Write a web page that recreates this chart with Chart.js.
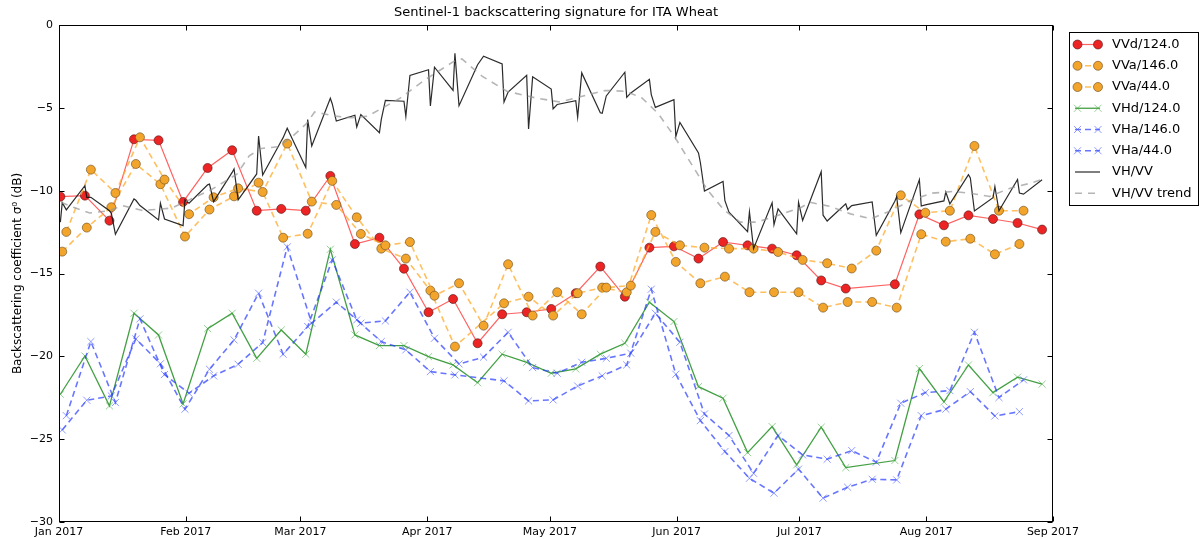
<!DOCTYPE html>
<html>
<head>
<meta charset="utf-8">
<title>Sentinel-1 backscattering signature for ITA Wheat</title>
<script src="https://cdn.jsdelivr.net/npm/chart.js@4.4.0/dist/chart.umd.min.js"></script>
<style>
  html, body { margin: 0; padding: 0; background: #fff; }
  #wrap { width: 1201px; height: 539px; }
</style>
</head>
<body>
<div id="wrap"><canvas id="sigChart" width="1201" height="539"></canvas></div>
<script>
// Sentinel-1 backscatter signature, ITA Wheat, Jan - Aug 2017
const chartTitle = 'Sentinel-1 backscattering signature for ITA Wheat';
const yTitle = 'Backscattering coefficient \u03c3\u2070 (dB)';

const monthDates = ['2017-01-01', '2017-02-01', '2017-03-01', '2017-04-01', '2017-05-01',
    '2017-06-01', '2017-07-01', '2017-08-01', '2017-09-01'];
const monthLabels = ['Jan 2017', 'Feb 2017', 'Mar 2017', 'Apr 2017', 'May 2017',
    'Jun 2017', 'Jul 2017', 'Aug 2017', 'Sep 2017'];
const yTicks = [0, -5, -10, -15, -20, -25, -30];

// acquisition dates: descending orbit 124 (morning) and ascending orbit 146 (evening)
const desc124Dates = ['2017-01-01', '2017-01-07', '2017-01-13', '2017-01-19', '2017-01-25', '2017-01-31',
    '2017-02-06', '2017-02-12', '2017-02-18', '2017-02-24', '2017-03-02', '2017-03-08', '2017-03-14',
    '2017-03-20', '2017-03-26', '2017-04-01', '2017-04-07', '2017-04-13', '2017-04-19', '2017-04-25',
    '2017-05-01', '2017-05-07', '2017-05-13', '2017-05-19', '2017-05-25', '2017-05-31', '2017-06-06',
    '2017-06-12', '2017-06-18', '2017-06-24', '2017-06-30', '2017-07-06', '2017-07-12', '2017-07-18',
    '2017-07-24', '2017-07-30', '2017-08-05', '2017-08-11', '2017-08-17', '2017-08-23', '2017-08-29'];
const asc146Dates = desc124Dates;
// ascending orbit 44 (evening, one day later)
const asc44Dates = ['2017-01-02', '2017-01-08', '2017-01-14', '2017-01-20', '2017-01-26', '2017-02-01',
    '2017-02-07', '2017-02-13', '2017-02-19', '2017-02-25', '2017-03-03', '2017-03-09', '2017-03-15',
    '2017-03-21', '2017-03-27', '2017-04-02', '2017-04-08', '2017-04-14', '2017-04-20', '2017-04-26',
    '2017-05-02', '2017-05-08', '2017-05-14', '2017-05-20', '2017-05-26', '2017-06-01', '2017-06-07',
    '2017-06-13', '2017-06-19', '2017-06-25', '2017-07-01', '2017-07-07', '2017-07-13', '2017-07-19',
    '2017-07-25', '2017-07-31', '2017-08-06', '2017-08-12', '2017-08-18', '2017-08-24'];
const descTime = '08:00';
const ascTime = '19:00';

const vvDesc124 = [-10.36, -10.30, -11.81, -6.90, -6.96, -10.68, -8.63, -7.56, -11.21, -11.10,
    -11.21, -9.11, -13.22, -12.84, -14.71, -17.34, -16.54, -19.21, -17.46, -17.34,
    -17.14, -16.19, -14.58, -16.40, -13.44, -13.36, -14.10, -13.10, -13.30, -13.50,
    -13.90, -15.42, -15.91, null, -15.65, -11.43, -12.09, -11.49, -11.71, -11.95, -12.35];
const vvAsc146 = [-13.68, -12.23, -11.00, -8.39, -9.61, -12.77, -11.14, -10.34, -9.52, -12.84,
    -12.60, -9.41, -11.61, -13.50, -14.10, -16.03, -19.41, null, -16.80, -16.40,
    -17.54, -16.19, -15.85, -16.13, -11.47, -14.30, -15.59, -15.19, -16.13, -16.13,
    -16.13, -17.06, -16.72, -16.72, -17.06, -12.63, -13.08, -12.90, -13.84, -13.22, null];
const vvAsc44 = [-12.49, -8.73, -10.14, -6.78, -9.33, -11.42, -10.40, -9.86, -10.08, -7.16,
    -10.66, -10.86, -12.61, -13.30, -13.10, -16.34, -15.59, -18.15, -14.44, -17.54,
    -16.13, -17.46, -15.85, -15.73, -12.49, -13.30, -13.44, -13.50, -13.50, -13.70,
    -14.18, -14.38, -14.70, -13.62, -10.28, -11.33, -11.21, -7.30, -11.21, -11.21];
const vhDesc124 = [-22.29, -19.98, -22.99, -17.40, -18.71, -22.87, -18.33, -17.40, -20.12, -18.41,
    -19.87, -13.54, -18.71, -19.35, -19.35, -20.02, -20.52, -21.59, -19.87, -20.36,
    -21.02, -20.76, -19.87, -19.21, -16.73, -17.90, -21.83, -22.53, -25.81, -24.24,
    -26.55, -24.28, -26.72, null, -26.29, -20.74, -22.75, -20.52, -22.19, -21.26, -21.68];
const vhAsc146 = [-24.44, -22.65, -22.39, -18.95, -20.45, -23.19, -20.78, -19.01, -16.19, -19.87,
    -18.20, -14.18, -17.80, -19.11, -19.61, -20.92, -21.12, null, -21.48, -22.69,
    -22.63, -21.79, -21.18, -20.52, -15.95, -21.08, -23.88, -25.75, -27.36, -28.26,
    -26.81, -28.56, -27.90, -27.42, -27.46, -23.58, -23.19, -22.13, -23.60, -23.34, null];
const vhAsc44 = [-23.58, -19.11, -22.79, -17.74, -21.10, -22.23, -21.18, -20.48, -19.17, -13.40,
    -18.00, -16.73, -18.00, -17.86, -16.13, -18.91, -20.46, -20.05, -18.55, -20.68,
    -21.02, -20.36, -20.12, -19.81, -17.40, -19.15, -23.48, -24.78, -27.06, -24.78,
    -25.95, -26.21, -25.69, -26.39, -22.83, -22.19, -22.07, -18.55, -22.49, -21.42];

// VH/VV ratio read at every acquisition of each orbit
const ratioDesc124 = [-11.90, -9.70, -11.21, -10.50, -11.77, -12.11, -9.65, -8.90, -8.99, -7.00,
    -8.60, -4.42, -5.45, -6.50, -4.60, -2.70, -3.95, -2.40, -2.35, -3.04,
    -3.87, -4.57, -5.30, -2.85, -3.28, -4.51, -7.72, -9.45, -12.48, -10.73,
    -12.60, -8.86, -10.80, null, -10.64, -9.33, -10.62, -9.04, -10.42, -9.33, -9.34];
const ratioAsc146 = [-10.72, -10.40, -11.37, -10.58, -10.76, -10.56, -9.60, -8.69, -6.70, -6.80,
    -5.71, -4.75, -6.15, -5.70, -5.52, -4.89, -1.71, null, -4.65, -6.28,
    -5.06, -5.56, -5.33, -4.37, -4.20, -6.74, -8.30, -10.60, -11.28, -12.05,
    -10.70, -11.48, -11.14, -10.68, -10.36, -10.93, -10.08, -9.23, -9.76, -10.14, null];
const ratioAsc44 = [-11.16, -10.40, -12.63, -10.90, -11.71, -10.76, -10.66, -10.56, -9.05, -6.23,
    -7.30, -5.80, -5.41, -4.55, -3.05, -2.55, -4.87, -1.88, -4.05, -3.13,
    -4.80, -2.89, -4.28, -4.10, -4.97, -5.88, -10.02, -11.30, -13.50, -11.10,
    -11.80, -11.83, -10.90, -12.70, -12.53, -10.86, -10.80, -11.23, -11.22, -10.21];

const trendDates = ['2017-01-01', '2017-01-04', '2017-01-08', '2017-01-13', '2017-01-16', '2017-01-21',
    '2017-01-28', '2017-02-01', '2017-02-07', '2017-02-13', '2017-02-16', '2017-02-19', '2017-02-23',
    '2017-02-26', '2017-03-02', '2017-03-04', '2017-03-09', '2017-03-13', '2017-03-17', '2017-03-21',
    '2017-03-25', '2017-03-31', '2017-04-07', '2017-04-09', '2017-04-14', '2017-04-20', '2017-04-27',
    '2017-05-03', '2017-05-10', '2017-05-14', '2017-05-19', '2017-05-23', '2017-05-27', '2017-05-31',
    '2017-06-04', '2017-06-08', '2017-06-12', '2017-06-16', '2017-06-20', '2017-06-24', '2017-07-01',
    '2017-07-03', '2017-07-08', '2017-07-13', '2017-07-18', '2017-07-23', '2017-07-28', '2017-08-02',
    '2017-08-07', '2017-08-11', '2017-08-16', '2017-08-21', '2017-08-26', '2017-08-29'];
const trendValues = [-10.7, -11.0, -11.35, -11.2, -10.9, -11.2, -11.05, -10.6, -9.9, -9.0,
    -7.9, -7.45, -7.35, -6.85, -5.95, -5.25, -5.5, -5.6, -5.5, -4.95,
    -4.4, -3.3, -2.2, -2.05, -3.1, -4.0, -4.4, -4.65, -4.2, -3.95,
    -4.0, -4.4, -5.35, -6.75, -8.35, -9.95, -11.15, -11.9, -11.9, -11.6,
    -11.0, -10.7, -10.95, -11.4, -11.7, -11.2, -10.55, -10.15, -10.05, -10.15,
    -10.35, -9.85, -9.55, -9.3];

// days since 1 Jan 2017 (UTC)
const t0 = Date.UTC(2017, 0, 1);
function toDay(d, time) {
    return (Date.parse(d + 'T' + time + ':00Z') - t0) / 86400000;
}
function points(dates, values, time) {
    return dates.map((d, i) => ({ x: toDay(d, time), y: values[i] }));
}

const monthDays = monthDates.map(d => toDay(d, '00:00'));

const ratioPoints = points(desc124Dates, ratioDesc124, descTime)
    .concat(points(asc146Dates, ratioAsc146, ascTime))
    .concat(points(asc44Dates, ratioAsc44, ascTime))
    .filter(p => p.y !== null)
    .sort((a, b) => a.x - b.x);

const redLine = 'rgba(255, 30, 30, 0.7)';
const orangeLine = 'rgba(255, 170, 40, 0.75)';
const greenLine = 'rgba(20, 135, 20, 0.8)';
const blueLine = 'rgba(40, 60, 255, 0.7)';

const datasets = [
    {
        label: 'VVd/124.0', data: points(desc124Dates, vvDesc124, descTime),
        borderColor: redLine, borderWidth: 1.2,
        pointStyle: 'circle', pointRadius: 4.5,
        pointBackgroundColor: '#ec2424', pointBorderColor: 'rgba(90, 25, 25, 0.8)', pointBorderWidth: 0.8
    },
    {
        label: 'VVa/146.0', data: points(asc146Dates, vvAsc146, ascTime),
        borderColor: orangeLine, borderWidth: 1.6, borderDash: [6, 4],
        pointStyle: 'circle', pointRadius: 4.5,
        pointBackgroundColor: '#f3a42b', pointBorderColor: 'rgba(110, 80, 35, 0.8)', pointBorderWidth: 0.8
    },
    {
        label: 'VVa/44.0', data: points(asc44Dates, vvAsc44, ascTime),
        borderColor: orangeLine, borderWidth: 1.6, borderDash: [6, 4],
        pointStyle: 'circle', pointRadius: 4.5,
        pointBackgroundColor: '#f3a42b', pointBorderColor: 'rgba(110, 80, 35, 0.8)', pointBorderWidth: 0.8
    },
    {
        label: 'VHd/124.0', data: points(desc124Dates, vhDesc124, descTime),
        borderColor: greenLine, borderWidth: 1.3,
        pointStyle: 'crossRot', pointRadius: 5,
        pointBackgroundColor: 'rgba(0,0,0,0)', pointBorderColor: 'rgba(60, 170, 60, 0.55)', pointBorderWidth: 1
    },
    {
        label: 'VHa/146.0', data: points(asc146Dates, vhAsc146, ascTime),
        borderColor: blueLine, borderWidth: 1.6, borderDash: [6, 4],
        pointStyle: 'crossRot', pointRadius: 5,
        pointBackgroundColor: 'rgba(0,0,0,0)', pointBorderColor: 'rgba(70, 90, 255, 0.6)', pointBorderWidth: 1
    },
    {
        label: 'VHa/44.0', data: points(asc44Dates, vhAsc44, ascTime),
        borderColor: blueLine, borderWidth: 1.6, borderDash: [6, 4],
        pointStyle: 'crossRot', pointRadius: 5,
        pointBackgroundColor: 'rgba(0,0,0,0)', pointBorderColor: 'rgba(70, 90, 255, 0.6)', pointBorderWidth: 1
    },
    {
        label: 'VH/VV', data: ratioPoints,
        borderColor: 'rgba(20, 20, 20, 0.9)', borderWidth: 1.2, pointRadius: 0
    },
    {
        label: 'VH/VV trend', data: points(trendDates, trendValues, '12:00'),
        borderColor: 'rgba(150, 150, 150, 0.7)', borderWidth: 1.6, borderDash: [7, 6], pointRadius: 0
    }
];
// later series are drawn on top
datasets.forEach((ds, i) => {
    ds.order = datasets.length - i;
    ds.tension = 0;
    ds.spanGaps = true;
    ds.fill = false;
});

// title, frame with inward ticks on all four sides
const framePlugin = {
    id: 'frame',
    afterDraw(chart) {
        const { ctx, chartArea: a, scales: { x, y } } = chart;
        const L = Math.round(a.left) + 0.5, R = Math.round(a.right) - 0.5;
        const T = Math.round(a.top) + 0.5, B = Math.round(a.bottom) - 0.5;
        ctx.save();
        ctx.strokeStyle = '#000';
        ctx.lineWidth = 1;
        ctx.beginPath();
        monthDays.forEach(v => {
            const px = Math.round(x.getPixelForValue(v)) + 0.5;
            ctx.moveTo(px, B); ctx.lineTo(px, B - 5);
            ctx.moveTo(px, T); ctx.lineTo(px, T + 5);
        });
        yTicks.forEach(v => {
            const py = Math.round(y.getPixelForValue(v)) + 0.5;
            ctx.moveTo(L, py); ctx.lineTo(L + 5, py);
            ctx.moveTo(R, py); ctx.lineTo(R - 5, py);
        });
        ctx.stroke();
        ctx.strokeRect(L, T, R - L, B - T);

        ctx.fillStyle = '#000';
        ctx.font = '13px "DejaVu Sans"';
        ctx.textAlign = 'center';
        ctx.textBaseline = 'middle';
        ctx.fillText(chartTitle, (a.left + a.right) / 2, 13);
        ctx.restore();
    }
};

// legend outside the axes, matplotlib style
const legendPlugin = {
    id: 'boxLegend',
    afterDraw(chart) {
        const ctx = chart.ctx;
        const x0 = 1069, y0 = 32, w = 129, h = 173;
        ctx.save();
        ctx.fillStyle = '#fff';
        ctx.fillRect(x0, y0, w, h);
        ctx.strokeStyle = '#000';
        ctx.lineWidth = 1;
        ctx.strokeRect(x0 + 0.5, y0 + 0.5, w, h);
        chart.data.datasets.forEach((ds, i) => {
            const yy = y0 + 12.5 + i * 21.25;
            ctx.setLineDash(ds.borderDash || []);
            ctx.strokeStyle = ds.borderColor;
            ctx.lineWidth = ds.borderWidth;
            ctx.beginPath();
            ctx.moveTo(1075, yy);
            ctx.lineTo(1100, yy);
            ctx.stroke();
            ctx.setLineDash([]);
            if (ds.pointRadius > 0) {
                [1077.5, 1098].forEach(px => {
                    ctx.beginPath();
                    if (ds.pointStyle === 'circle') {
                        ctx.arc(px, yy, ds.pointRadius, 0, Math.PI * 2);
                        ctx.fillStyle = ds.pointBackgroundColor;
                        ctx.fill();
                        ctx.lineWidth = ds.pointBorderWidth;
                        ctx.strokeStyle = ds.pointBorderColor;
                        ctx.stroke();
                    } else {
                        const r = ds.pointRadius * Math.SQRT1_2;
                        ctx.moveTo(px - r, yy - r); ctx.lineTo(px + r, yy + r);
                        ctx.moveTo(px - r, yy + r); ctx.lineTo(px + r, yy - r);
                        ctx.lineWidth = ds.pointBorderWidth;
                        ctx.strokeStyle = ds.pointBorderColor;
                        ctx.stroke();
                    }
                });
            }
            ctx.fillStyle = '#000';
            ctx.font = '13px "DejaVu Sans"';
            ctx.textAlign = 'left';
            ctx.textBaseline = 'middle';
            ctx.fillText(ds.label, 1112, yy);
        });
        ctx.restore();
    }
};

Chart.defaults.font.family = '"DejaVu Sans", sans-serif';
Chart.defaults.color = '#000';

const ctx = document.getElementById('sigChart').getContext('2d');
const chart = new Chart(ctx, {
    type: 'line',
    data: { datasets: datasets },
    options: {
        responsive: false,
        animation: false,
        devicePixelRatio: 1,
        events: [],
        layout: { padding: { left: 0, top: 25, right: 148, bottom: 0 } },
        plugins: {
            legend: { display: false },
            title: { display: false },
            tooltip: { enabled: false }
        },
        scales: {
            x: {
                type: 'linear',
                min: monthDays[0],
                max: monthDays[monthDays.length - 1],
                grid: { display: false, drawTicks: false },
                border: { display: false },
                afterBuildTicks: scale => {
                    scale.ticks = monthDays.map(v => ({ value: v }));
                },
                afterFit: scale => { scale.height = 17; },
                ticks: {
                    autoSkip: false,
                    maxRotation: 0,
                    padding: 4,
                    font: { size: 11 },
                    callback: function(value, index) {
                        return monthLabels[index];
                    }
                }
            },
            y: {
                min: -30,
                max: 0,
                grid: { display: false, drawTicks: false },
                border: { display: false },
                afterBuildTicks: scale => {
                    scale.ticks = yTicks.map(v => ({ value: v }));
                },
                afterFit: scale => { scale.width = 59; },
                title: {
                    display: true,
                    text: yTitle,
                    font: { size: 12 },
                    padding: { top: 11, bottom: 0 }
                },
                ticks: {
                    padding: 6,
                    font: { size: 11 },
                    callback: function(value) {
                        return value === 0 ? '0' : '\u2212' + Math.abs(value);
                    }
                }
            }
        }
    },
    plugins: [framePlugin, legendPlugin]
});
</script>
</body>
</html>
